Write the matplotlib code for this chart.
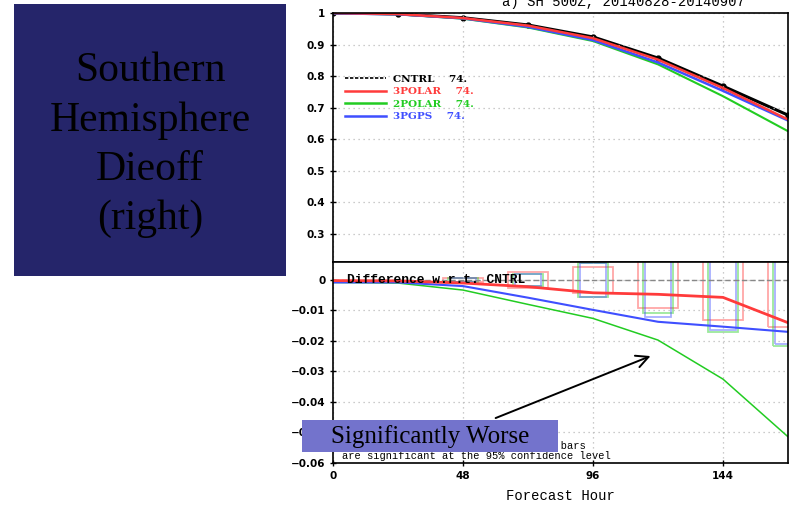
import matplotlib
matplotlib.use("Agg")
import matplotlib.pyplot as plt
from matplotlib.patches import Rectangle
from matplotlib.lines import Line2D

# forecast lead times (hours)
hours = [0, 24, 48, 72, 96, 120, 144, 168]

# anomaly correlation, upper panel
acc_cntrl = [1.0, 0.997, 0.985, 0.962, 0.924, 0.857, 0.768, 0.676]
acc_3polar = [1.0, 0.9967, 0.984, 0.960, 0.920, 0.852, 0.762, 0.662]
acc_2polar = [0.999, 0.996, 0.982, 0.954, 0.911, 0.837, 0.736, 0.625]
acc_3pgps = [0.999, 0.996, 0.983, 0.956, 0.914, 0.843, 0.753, 0.659]

# difference from CNTRL, lower panel
diff_3polar = [-0.0002, -0.0003, -0.001, -0.0022, -0.0042, -0.0047, -0.0057, -0.014]
diff_2polar = [-0.0008, -0.001, -0.0033, -0.008, -0.0126, -0.0197, -0.0325, -0.0514]
diff_3pgps = [-0.0008, -0.0008, -0.002, -0.0058, -0.0098, -0.0137, -0.0153, -0.017]

# 95% significance half-widths (outline bars)
bar_hours = [48, 72, 96, 120, 144, 168]
sig_3polar = [0.0007, 0.0025, 0.0042, 0.0092, 0.0131, 0.0154]
sig_2polar = [0.0008, 0.002, 0.0056, 0.0108, 0.017, 0.0216]
sig_3pgps = [0.0008, 0.002, 0.0056, 0.012, 0.0164, 0.021]

RED = "#ff3b3b"
GREEN = "#22cc22"
BLUE = "#3f4fff"

tick_font = dict(family="DejaVu Sans", weight="bold", size=7.5)

fig = plt.figure(figsize=(7.89, 5.05), dpi=100)
ax1 = fig.add_axes([333/789, 1-262/505, 455/789, 249/505])
ax2 = fig.add_axes([333/789, 1-463/505, 455/789, 201/505])

# ---- upper panel
ax1.plot(hours, acc_2polar, color=GREEN, lw=1.5)
ax1.plot(hours, acc_3pgps, color=BLUE, lw=1.8)
ax1.plot(hours, acc_3polar, color=RED, lw=1.8)
ax1.plot(hours, acc_cntrl, color="black", lw=2.2, marker="o", markersize=3.5, zorder=1)
ax1.set_xlim(0, 168)
ax1.set_ylim(0.21, 1.0)
ax1.set_xticks([0, 48, 96, 144])
ax1.set_xticklabels([])
ax1.set_yticks([0.3, 0.4, 0.5, 0.6, 0.7, 0.8, 0.9, 1.0])
ax1.set_yticklabels(["0.3", "0.4", "0.5", "0.6", "0.7", "0.8", "0.9", "1"], fontdict=tick_font)
ax1.grid(True, color="#bbbbbb", linestyle=(0, (1, 3)), lw=0.9)
ax1.tick_params(axis="both", direction="inout", length=4, width=1)
ax1.tick_params(axis="x", length=0)

handles = [Line2D([], [], color="black", lw=1.2, linestyle=(0, (2, 1))),
           Line2D([], [], color=RED, lw=1.8),
           Line2D([], [], color=GREEN, lw=1.8),
           Line2D([], [], color=BLUE, lw=1.8)]
labels = ["CNTRL    74.", "3POLAR    74.", "2POLAR    74.", "3PGPS    74."]
ax1.legend(handles, labels, loc="upper left", bbox_to_anchor=(0.005, 0.79),
           frameon=False, labelcolor=["black", RED, GREEN, BLUE],
           prop=dict(family="DejaVu Serif", weight="bold", size=7.5),
           handlelength=4.0, handletextpad=0.6, labelspacing=0.3)

# ---- lower panel
ax2.axhline(0, color="#888888", lw=1, linestyle=(0, (4, 2)))
for sig, col, half in [(sig_3polar, RED, 7.4), (sig_2polar, GREEN, 5.5), (sig_3pgps, BLUE, 4.8)]:
    for h, s in zip(bar_hours, sig):
        ax2.add_patch(Rectangle((h-half, -s), 2*half, 2*s, fill=False,
                                edgecolor=col, alpha=0.45, lw=1.3))
ax2.plot(hours, diff_2polar, color=GREEN, lw=1.1)
ax2.plot(hours, diff_3pgps, color=BLUE, lw=1.5)
ax2.plot(hours, diff_3polar, color=RED, lw=2)
ax2.set_xlim(0, 168)
ax2.set_ylim(-0.06, 0.0059)
ax2.set_xticks([0, 48, 96, 144])
ax2.set_xticklabels(["0", "48", "96", "144"], fontdict=tick_font)
ax2.set_yticks([-0.06, -0.05, -0.04, -0.03, -0.02, -0.01, 0])
ax2.set_yticklabels(["\u22120.06", "\u22120.05", "\u22120.04", "\u22120.03", "\u22120.02", "\u22120.01", "0"],
                    fontdict=tick_font)
ax2.grid(True, color="#bbbbbb", linestyle=(0, (1, 3)), lw=0.9)
ax2.tick_params(axis="both", direction="inout", length=4, width=1)
ax2.set_xlabel("Forecast Hour", family="Liberation Mono", size=10, labelpad=6)

ax2.text(5.0, 0.0001, "Difference w.r.t. CNTRL", family="Liberation Mono", weight="bold",
         size=9.3, va="center", ha="left", zorder=5)
ax2.text(0.02, 0.008, "Differences outside of the outline bars\nare significant at the 95% confidence level",
         transform=ax2.transAxes, family="Liberation Mono", size=7.5, ha="left", va="bottom",
         linespacing=1.05)

for ax in (ax1, ax2):
    for sp in ax.spines.values():
        sp.set_linewidth(1.2)

# title, clipped at the top edge
fig.text(623/789, 1-6/505, "a) SH 500Z, 20140828-20140907", family="Liberation Mono",
         size=10, ha="center", va="baseline")

# left caption box
fig.patches.append(Rectangle((14/789, 1-276/505), 272/789, 272/505,
                             transform=fig.transFigure, facecolor="#25256a",
                             edgecolor="none", zorder=0))
fig.text(150/789, 1-145/505, "Southern\nHemisphere\nDieoff\n(right)",
         family="Liberation Serif", size=30, color="black", ha="center", va="center",
         linespacing=1.37)

# arrow pointing at the 2POLAR drop
ax2.annotate("", xy=(118.2, -0.0246), xytext=(59.1, -0.0456),
             arrowprops=dict(arrowstyle="->", color="black", lw=1.4,
                             mutation_scale=22), annotation_clip=False)

# "Significantly Worse" label box
fig.patches.append(Rectangle((302/789, 1-452/505), 256/789, 32/505,
                             transform=fig.transFigure, facecolor="#7373cc",
                             edgecolor="none", zorder=10))
t = fig.text(430/789, 1-437/505, "Significantly Worse", family="Liberation Serif",
             size=18, color="black", ha="center", va="center")
t.set_zorder(11)

fig.savefig("out.png", dpi=100)
